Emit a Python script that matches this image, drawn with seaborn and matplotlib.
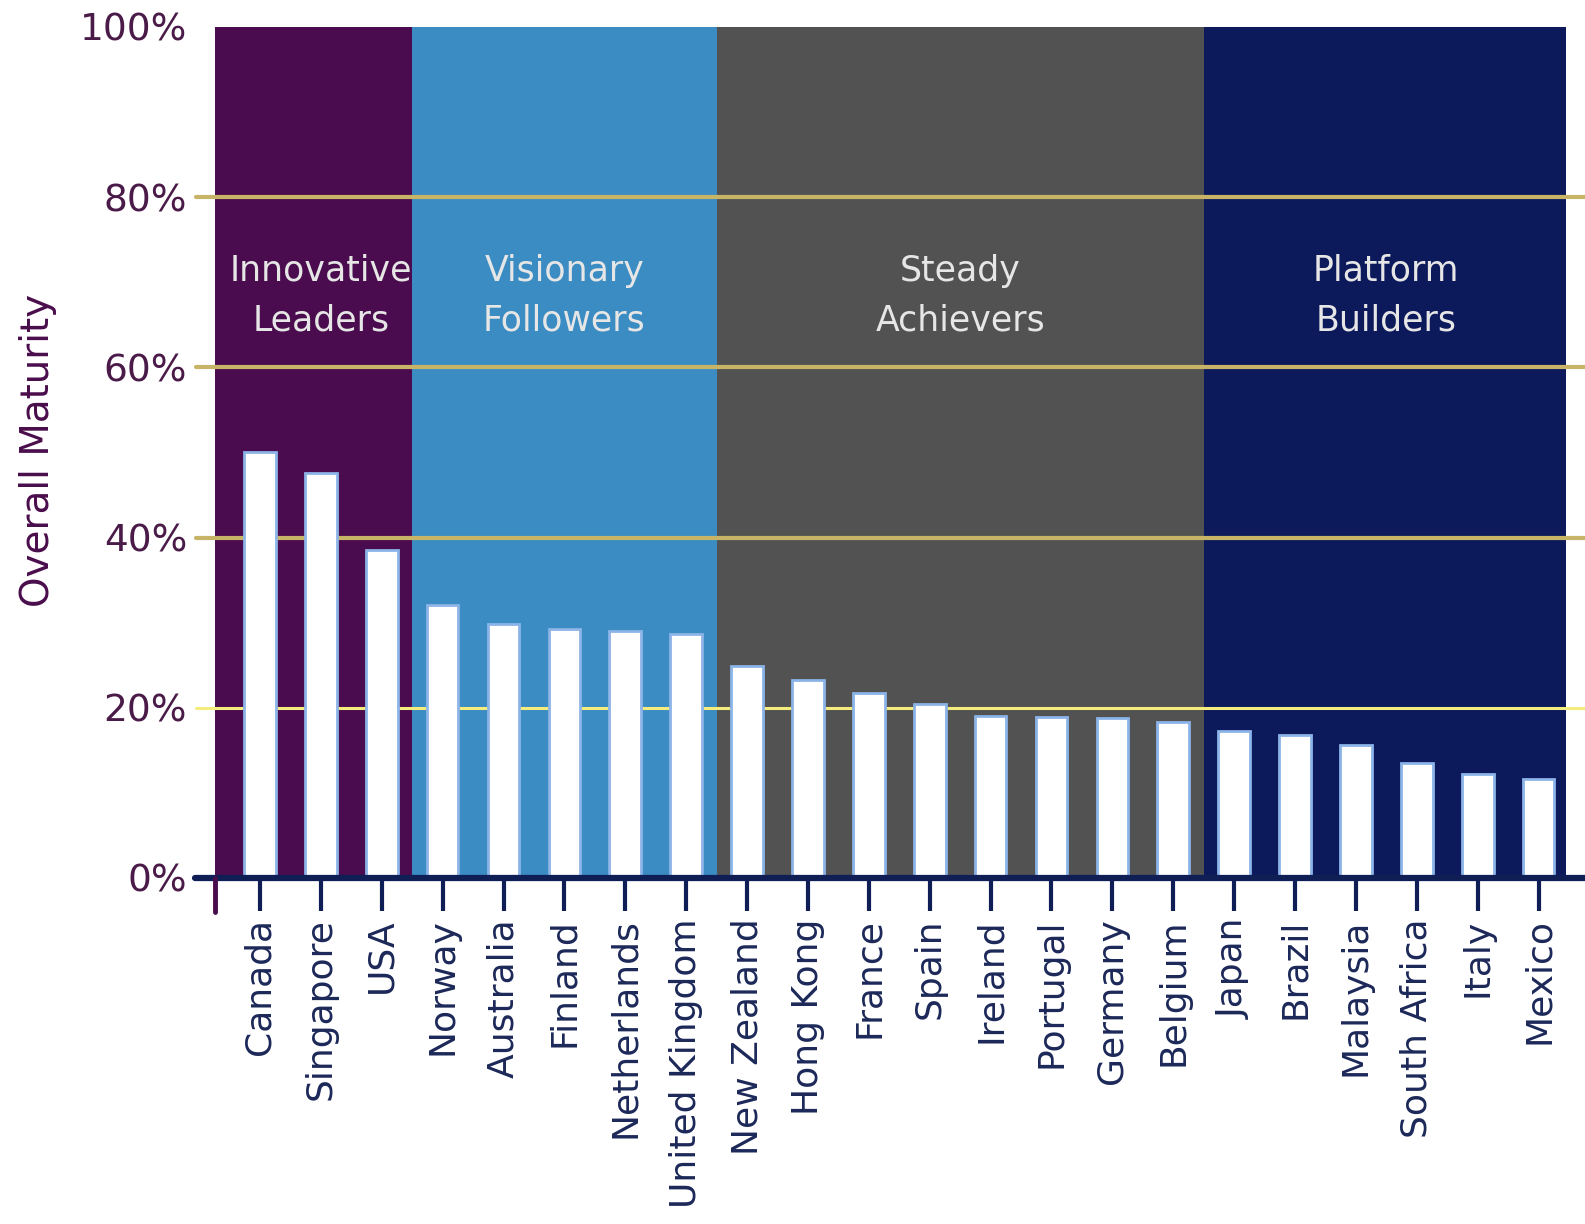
import matplotlib
matplotlib.use("Agg")
import matplotlib.pyplot as plt
import numpy as np
import pandas as pd
import seaborn as sns

# Data
countries = [
    "Canada", "Singapore", "USA",
    "Norway", "Australia", "Finland", "Netherlands", "United Kingdom",
    "New Zealand", "Hong Kong", "France", "Spain", "Ireland", "Portugal", "Germany", "Belgium",
    "Japan", "Brazil", "Malaysia", "South Africa", "Italy", "Mexico",
]
maturity = [
    50.1, 47.6, 38.5,
    32.1, 29.8, 29.3, 29.0, 28.7,
    24.9, 23.3, 21.7, 20.4, 19.0, 18.9, 18.8, 18.3,
    17.3, 16.8, 15.6, 13.5, 12.2, 11.6,
]
group_names = ["Innovative\nLeaders", "Visionary\nFollowers", "Steady\nAchievers", "Platform\nBuilders"]
group_sizes = [3, 5, 8, 6]
group_colors = ["#4a0c4e", "#3a8cc3", "#525252", "#0c1a5c"]
yticks = [0, 20, 40, 60, 80, 100]
ytick_labels = ["0%", "20%", "40%", "60%", "80%", "100%"]

PURPLE = "#4a0d4c"
NAVY = "#0f1f55"

sns.set_theme(style="white")
plt.rcParams["font.family"] = ["DejaVu Sans"]

fig = plt.figure(figsize=(15.85, 12.24), dpi=100)
ax = fig.add_axes([0.1356, 0.2827, 0.988 - 0.1356, 0.978 - 0.2827])

x_left, x_right = -0.74, 21.45

# background bands per group
edges = np.concatenate([[0], np.cumsum(group_sizes)])
for i, (name, color) in enumerate(zip(group_names, group_colors)):
    lo = x_left if i == 0 else edges[i] - 0.5
    hi = x_right if i == len(group_names) - 1 else edges[i + 1] - 0.5
    ax.axvspan(lo, hi, color=color, zorder=0, lw=0)
    xc = (edges[i] + edges[i + 1] - 1) / 2
    ax.text(xc, 68.4, name, ha="center", va="center", color="#e6e6e6",
            fontsize=25, linespacing=1.6, zorder=4)

# gridlines (extend a little past the axes like the original)
for y in yticks[1:-1]:
    col, lw = ("#f4ec7c", 2.2) if y == 20 else ("#c8b466", 3)
    ax.axhline(y, xmin=-0.014, xmax=1.02, color=col, lw=lw, zorder=1, clip_on=False)

df = pd.DataFrame({"country": countries, "maturity": maturity})
sns.barplot(data=df, x="country", y="maturity", color="white", saturation=1,
            edgecolor="#8cb4e8", linewidth=2, width=0.52, ax=ax, zorder=3)

ax.set_xlim(x_left, x_right)
ax.set_ylim(0, 100)
for s in ax.spines.values():
    s.set_visible(False)

# x axis line and left stub
ax.axhline(0, xmin=-0.015, xmax=1.02, color=NAVY, lw=4.5, zorder=5, clip_on=False)
ax.axvline(x_left, ymin=-0.04, ymax=0, color=PURPLE, lw=3.5, zorder=5, clip_on=False)

ax.set_yticks(yticks)
ax.set_yticklabels(ytick_labels, fontsize=27, color="#4a1a48")
ax.tick_params(axis="y", length=0, pad=20)
ax.tick_params(axis="x", direction="out", length=24, width=3, color=NAVY, pad=5,
               bottom=True)
ax.set_xticks(range(len(countries)))
ax.set_xticklabels(countries, rotation=90, fontsize=26, color="#1c2858", va="top")
ax.set_xlabel("")
ax.set_ylabel("")

fig.text(38 / 1585, 1 - 450 / 1224, "Overall Maturity", rotation=90, ha="center",
         va="center", fontsize=28, color=PURPLE)

fig.savefig("out.png", dpi=100)
